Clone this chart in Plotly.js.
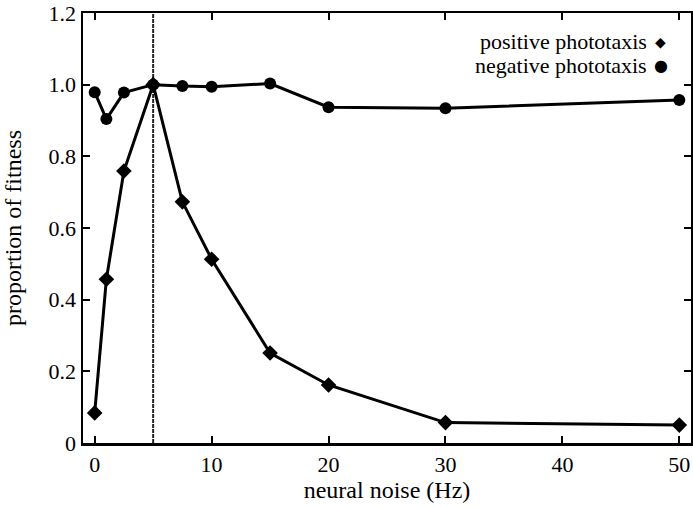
<!DOCTYPE html>
<html><head><meta charset="utf-8">
<script src="https://cdn.plot.ly/plotly-3.0.1.min.js"></script>
<style>html,body{margin:0;padding:0;background:#fff}#chart{width:693px;height:508px}</style>
</head><body><div id="chart"></div>
<script>
const noiseHz = [0, 1, 2.5, 5, 7.5, 10, 15, 20, 30, 50];
const positivePhototaxis = [0.084, 0.457, 0.759, 1.0, 0.673, 0.513, 0.251, 0.162, 0.057, 0.050];
const negativePhototaxis = [0.979, 0.904, 0.978, 1.0, 0.996, 0.994, 1.003, 0.937, 0.934, 0.957];
const xTickVals = [0, 10, 20, 30, 40, 50];
const yTickVals = [0, 0.2, 0.4, 0.6, 0.8, 1.0, 1.2];
const yTickText = ['0', '0.2', '0.4', '0.6', '0.8', '1.0', '1.2'];
const markerLine = 5;
const seriesNames = ['positive phototaxis', 'negative phototaxis'];

const font = '"Liberation Serif", "Times New Roman", serif';
const traces = [
  {x: noiseHz, y: positivePhototaxis, mode: 'lines+markers', name: seriesNames[0],
   line: {color: '#000', width: 3}, marker: {symbol: 'diamond', size: 12, color: '#000'}, cliponaxis: false},
  {x: noiseHz, y: negativePhototaxis, mode: 'lines+markers', name: seriesNames[1],
   line: {color: '#000', width: 3}, marker: {symbol: 'circle', size: 12, color: '#000'}, cliponaxis: false}
];
const layout = {
  width: 693, height: 508,
  margin: {l: 83, r: 2, t: 13, b: 65},
  paper_bgcolor: '#fff', plot_bgcolor: '#fff',
  font: {family: font, size: 22, color: '#000'},
  showlegend: false,
  xaxis: {range: [-1, 51], tickmode: 'array', tickvals: xTickVals,
    showline: true, linecolor: '#000', linewidth: 2.5, mirror: 'allticks', ticks: 'inside',
    ticklen: 7, tickwidth: 2, tickcolor: '#000', showgrid: false, zeroline: false,
    tickfont: {family: font, size: 22, color: '#000'},
    title: {text: 'neural noise (Hz)', font: {family: font, size: 24, color: '#000'}, standoff: 6}},
  yaxis: {range: [0, 1.2], tickmode: 'array', tickvals: yTickVals, ticktext: yTickText,
    showline: true, linecolor: '#000', linewidth: 2.5, mirror: 'allticks', ticks: 'inside',
    ticklen: 7, tickwidth: 2, tickcolor: '#000', showgrid: false, zeroline: false,
    tickfont: {family: font, size: 22, color: '#000'},
    title: {text: 'proportion of fitness', font: {family: font, size: 24, color: '#000'}, standoff: 20}},
  shapes: [
    {type: 'line', xref: 'x', yref: 'paper', x0: markerLine, x1: markerLine, y0: 0, y1: 1,
     line: {color: '#222', width: 2, dash: '4px,1px'}, layer: 'below'}
  ],
  annotations: [
    {xref: 'paper', yref: 'paper', x: 0.929, y: 0.933, xanchor: 'right', yanchor: 'middle', showarrow: false, borderpad: 0,
     text: seriesNames[0], font: {family: font, size: 22, color: '#000'}},
    {xref: 'paper', yref: 'paper', x: 0.929, y: 0.877, xanchor: 'right', yanchor: 'middle', showarrow: false, borderpad: 0,
     text: seriesNames[1], font: {family: font, size: 22, color: '#000'}},
    {xref: 'paper', yref: 'paper', x: 0.95, y: 0.933, xanchor: 'center', yanchor: 'middle', showarrow: false, borderpad: 0,
     text: '◆', font: {family: 'DejaVu Sans', size: 14, color: '#000'}},
    {xref: 'paper', yref: 'paper', x: 0.95, y: 0.877, xanchor: 'center', yanchor: 'middle', showarrow: false, borderpad: 0,
     text: '●', font: {family: 'DejaVu Sans', size: 16, color: '#000'}}
  ]
};
Plotly.newPlot('chart', traces, layout, {displayModeBar: false, staticPlot: true});
</script></body></html>
